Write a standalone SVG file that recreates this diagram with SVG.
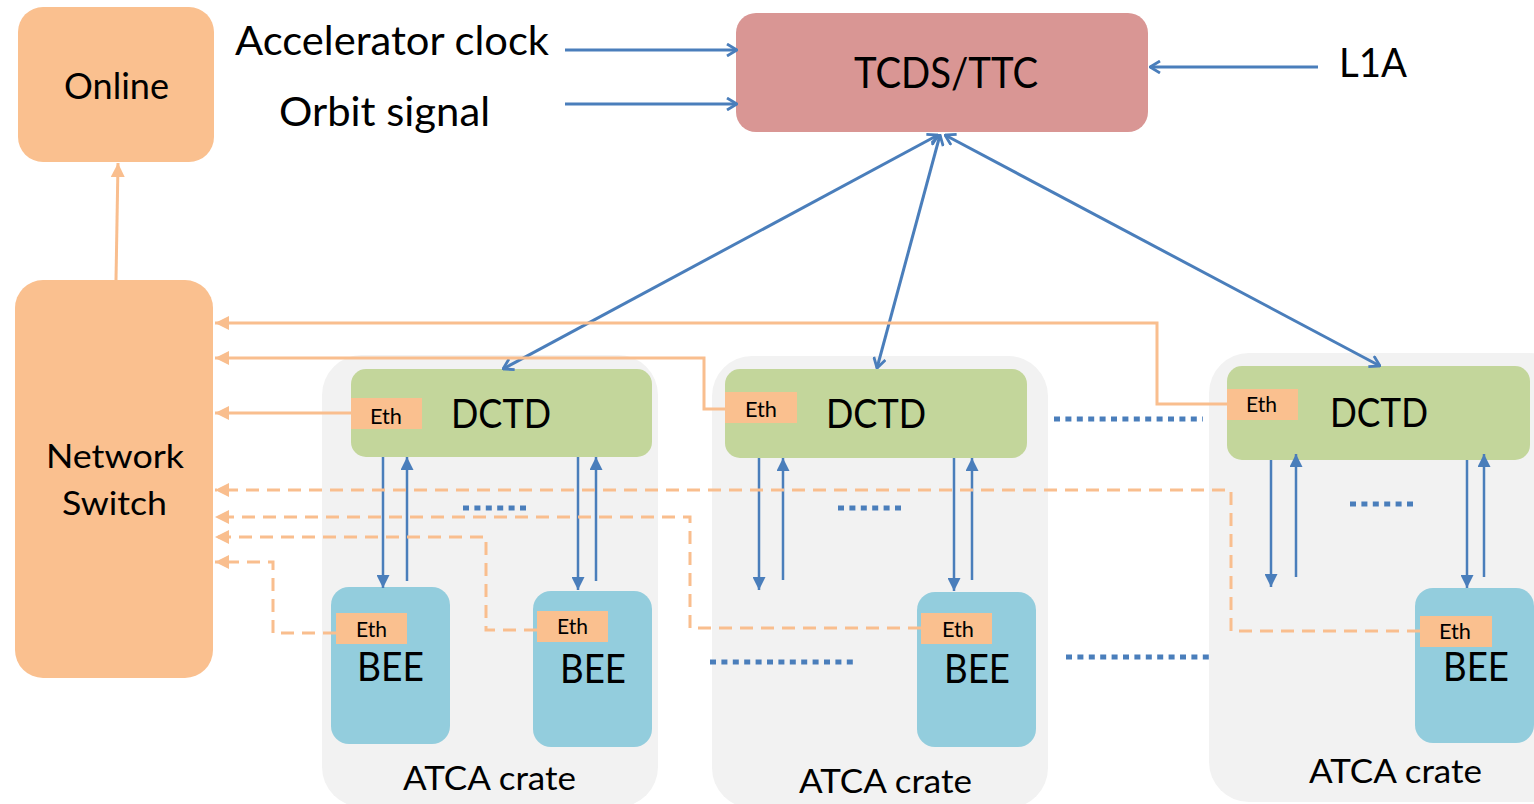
<svg xmlns="http://www.w3.org/2000/svg" width="1534" height="804" viewBox="0 0 1534 804">
<style>
text{font-family:Lato,"Liberation Sans",sans-serif;fill:#000}
.big{font-size:40px}
.mid{font-size:40px}
.eth{font-size:22px}
.atca{font-size:32px}
.crate{fill:#F2F2F2}
.dctd{fill:#C3D69B}
.bee{fill:#93CDDD}
.ethbox{fill:#FAC08F}
.orange{fill:#FAC08F}
.bl{stroke:#4A7EBB;fill:none}
.ol{stroke:#F9BE8E;stroke-width:3;fill:none}
.od{stroke:#F9BE8E;stroke-width:3;fill:none;stroke-dasharray:13 8}
.dots{stroke:#4A7EBB;stroke-width:5;stroke-dasharray:6 5.4;fill:none}
</style>
<defs>
<marker id="vb" viewBox="0 0 12 14" refX="11" refY="7" markerWidth="12" markerHeight="14" markerUnits="userSpaceOnUse" orient="auto-start-reverse"><path d="M1,1 L11,7 L1,13" fill="none" stroke="#4A7EBB" stroke-width="2.8"/></marker>
<marker id="tb" viewBox="0 0 13 13" refX="13" refY="6.5" markerWidth="13" markerHeight="13" markerUnits="userSpaceOnUse" orient="auto"><path d="M0,0 L13,6.5 L0,13 z" fill="#4A7EBB"/></marker>
<marker id="to" viewBox="0 0 14 14" refX="14" refY="7" markerWidth="14" markerHeight="14" markerUnits="userSpaceOnUse" orient="auto"><path d="M0,0 L14,7 L0,14 z" fill="#F9BE8E"/></marker>
</defs>

<g id="crate1">
<rect class="crate" x="322" y="355" width="336" height="452" rx="40"/>
<text class="atca" x="403" y="790" textLength="173" lengthAdjust="spacingAndGlyphs">ATCA crate</text>
</g>
<g id="crate2">
<rect class="crate" x="712" y="356" width="336" height="452" rx="40"/>
<text class="atca" x="799" y="793" textLength="173" lengthAdjust="spacingAndGlyphs">ATCA crate</text>
</g>
<g id="crate3">
<rect class="crate" x="1209" y="353" width="360" height="449" rx="40"/>
<text class="atca" x="1309" y="783" textLength="173" lengthAdjust="spacingAndGlyphs">ATCA crate</text>
</g>

<g id="online">
<rect class="orange" x="18" y="7" width="196" height="155" rx="25"/>
<text style="font-size:36px" x="64" y="99" textLength="105" lengthAdjust="spacingAndGlyphs">Online</text>
</g>
<g id="network-switch">
<rect class="orange" x="15" y="280" width="198" height="398" rx="28"/>
<text style="font-size:33px" x="46" y="468" textLength="138" lengthAdjust="spacingAndGlyphs">Network</text>
<text style="font-size:33px" x="62" y="515" textLength="105" lengthAdjust="spacingAndGlyphs">Switch</text>
</g>
<g id="tcds">
<rect x="736" y="13" width="412" height="119" rx="20" fill="#D99694"/>
<text style="font-size:42px" x="854" y="88" textLength="184" lengthAdjust="spacingAndGlyphs">TCDS/TTC</text>
</g>
<g id="labels">
<text class="big" x="235" y="55" textLength="314" lengthAdjust="spacingAndGlyphs">Accelerator clock</text>
<text class="big" x="279" y="126" textLength="211" lengthAdjust="spacingAndGlyphs">Orbit signal</text>
<text class="big" x="1339" y="77" textLength="68" lengthAdjust="spacingAndGlyphs">L1A</text>
</g>

<g id="dctd1">
<rect class="dctd" x="351" y="369" width="301" height="88" rx="15"/>
<rect class="ethbox" x="351" y="398" width="71" height="31"/>
<text class="eth" x="370" y="424" textLength="32" lengthAdjust="spacingAndGlyphs">Eth</text>
<text class="mid" x="451" y="428" textLength="100" lengthAdjust="spacingAndGlyphs">DCTD</text>
</g>
<g id="dctd2">
<rect class="dctd" x="725" y="369" width="302" height="89" rx="15"/>
<rect class="ethbox" x="725" y="392" width="72" height="31"/>
<text class="eth" x="745" y="417" textLength="32" lengthAdjust="spacingAndGlyphs">Eth</text>
<text class="mid" x="826" y="428" textLength="100" lengthAdjust="spacingAndGlyphs">DCTD</text>
</g>
<g id="dctd3">
<rect class="dctd" x="1227" y="366" width="303" height="94" rx="15"/>
<rect class="ethbox" x="1227" y="389" width="71" height="31"/>
<text class="eth" x="1246" y="412" textLength="31" lengthAdjust="spacingAndGlyphs">Eth</text>
<text class="mid" x="1330" y="427" textLength="98" lengthAdjust="spacingAndGlyphs">DCTD</text>
</g>

<g id="bee1">
<rect class="bee" x="331" y="587" width="119" height="157" rx="18"/>
<rect class="ethbox" x="336" y="613" width="71" height="31"/>
<text class="eth" x="356" y="637" textLength="31" lengthAdjust="spacingAndGlyphs">Eth</text>
<text class="mid" x="357" y="681" textLength="67" lengthAdjust="spacingAndGlyphs">BEE</text>
</g>
<g id="bee2">
<rect class="bee" x="533" y="591" width="119" height="156" rx="18"/>
<rect class="ethbox" x="537" y="611" width="71" height="31"/>
<text class="eth" x="557" y="634" textLength="31" lengthAdjust="spacingAndGlyphs">Eth</text>
<text class="mid" x="560" y="683" textLength="66" lengthAdjust="spacingAndGlyphs">BEE</text>
</g>
<g id="bee3">
<rect class="bee" x="917" y="592" width="119" height="155" rx="18"/>
<rect class="ethbox" x="921" y="613" width="71" height="31"/>
<text class="eth" x="942" y="637" textLength="32" lengthAdjust="spacingAndGlyphs">Eth</text>
<text class="mid" x="944" y="683" textLength="66" lengthAdjust="spacingAndGlyphs">BEE</text>
</g>
<g id="bee4">
<rect class="bee" x="1415" y="588" width="119" height="155" rx="18"/>
<rect class="ethbox" x="1420" y="616" width="72" height="31"/>
<text class="eth" x="1439" y="639" textLength="32" lengthAdjust="spacingAndGlyphs">Eth</text>
<text class="mid" x="1443" y="681" textLength="66" lengthAdjust="spacingAndGlyphs">BEE</text>
</g>

<g id="connectors">
<line class="bl" stroke-width="3" x1="565" y1="50" x2="737" y2="50" marker-end="url(#vb)"/>
<line class="bl" stroke-width="3" x1="565" y1="104" x2="737" y2="104" marker-end="url(#vb)"/>
<line class="bl" stroke-width="3" x1="1318" y1="67" x2="1150" y2="67" marker-end="url(#vb)"/>
<line class="bl" stroke-width="3" x1="938" y1="135" x2="503" y2="369" marker-start="url(#vb)" marker-end="url(#vb)"/>
<line class="bl" stroke-width="3" x1="940" y1="135" x2="877" y2="368" marker-start="url(#vb)" marker-end="url(#vb)"/>
<line class="bl" stroke-width="3" x1="945" y1="135" x2="1380" y2="366" marker-start="url(#vb)" marker-end="url(#vb)"/>
<g stroke-width="2.5">
<line class="bl" x1="383" y1="457" x2="383" y2="588" marker-end="url(#tb)"/>
<line class="bl" x1="407" y1="581" x2="407" y2="457" marker-end="url(#tb)"/>
<line class="bl" x1="578" y1="457" x2="578" y2="590" marker-end="url(#tb)"/>
<line class="bl" x1="596" y1="581" x2="596" y2="457" marker-end="url(#tb)"/>
<line class="bl" x1="759" y1="458" x2="759" y2="590" marker-end="url(#tb)"/>
<line class="bl" x1="783" y1="580" x2="783" y2="458" marker-end="url(#tb)"/>
<line class="bl" x1="954" y1="458" x2="954" y2="591" marker-end="url(#tb)"/>
<line class="bl" x1="972" y1="580" x2="972" y2="458" marker-end="url(#tb)"/>
<line class="bl" x1="1271" y1="460" x2="1271" y2="587" marker-end="url(#tb)"/>
<line class="bl" x1="1296" y1="577" x2="1296" y2="454" marker-end="url(#tb)"/>
<line class="bl" x1="1467" y1="460" x2="1467" y2="588" marker-end="url(#tb)"/>
<line class="bl" x1="1484" y1="577" x2="1484" y2="454" marker-end="url(#tb)"/>
</g>
<line class="ol" x1="116" y1="280" x2="118" y2="163" marker-end="url(#to)"/>
<path class="ol" d="M351,413 H215" marker-end="url(#to)"/>
<path class="ol" d="M725,409 H704 V358 H215" marker-end="url(#to)"/>
<path class="ol" d="M1227,404 H1157 V323 H215" marker-end="url(#to)"/>
<path class="od" d="M336,633 H273 V562 H215" marker-end="url(#to)"/>
<path class="od" d="M537,630 H486 V537 H215" marker-end="url(#to)"/>
<path class="od" d="M921,628 H690 V517 H215" marker-end="url(#to)"/>
<path class="od" d="M1420,631 H1231 V490 H215" marker-end="url(#to)"/>
<line class="dots" x1="463" y1="508" x2="529" y2="508"/>
<line class="dots" x1="838" y1="508" x2="904" y2="508"/>
<line class="dots" x1="1350" y1="504" x2="1417" y2="504"/>
<line class="dots" x1="1054" y1="419" x2="1203" y2="419"/>
<line class="dots" x1="710" y1="662" x2="858" y2="662"/>
<line class="dots" x1="1066" y1="657" x2="1214" y2="657"/>
</g>
</svg>
